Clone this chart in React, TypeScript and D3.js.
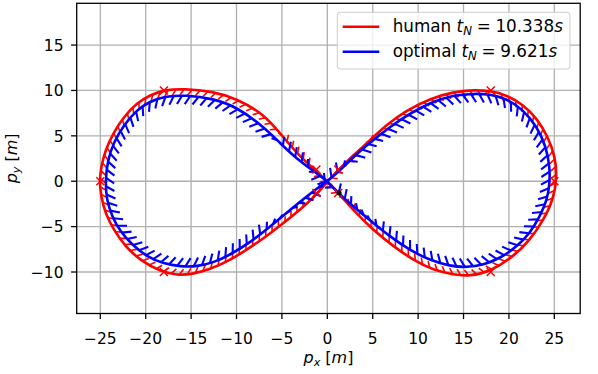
import { useEffect, useRef } from "react";
import * as d3 from "d3";

// trajectory samples, in travel order (closed figure eight)
const humanPath: [number, number][] = [
  [0, 0], [-1.2, 1.1], [-3.4, 3.1], [-5.2, 5.3], [-7.0, 7.4], [-10.0, 9.1],
  [-12.6, 9.9], [-15.8, 10.2], [-18.0, 10.05], [-19.5, 9.5], [-21.0, 8.6],
  [-22.4, 7.1], [-23.5, 5.45], [-24.45, 3.45], [-24.9, 1.6], [-25.1, 0],
  [-24.9, -1.7], [-24.45, -3.55], [-23.5, -5.4], [-22.25, -7.2], [-20.6, -8.7],
  [-18.4, -9.95], [-16.5, -10.35], [-14.9, -10.25], [-12.9, -9.7], [-11.0, -8.85],
  [-9.2, -7.75], [-7.0, -6.3], [-4.8, -4.6], [-2.6, -2.8], [-1.1, -1.4],
  [0, 0], [1.2, 1.2], [2.9, 2.9], [4.7, 4.5], [6.5, 6.2], [8.7, 7.8],
  [11.3, 9.1], [13.9, 9.85], [16.1, 10.05], [17.9, 9.97], [19.75, 9.5],
  [21.6, 8.4], [23.1, 6.9], [24.3, 4.9], [25.1, 2.7], [25.3, 0.4],
  [24.9, -2.0], [23.8, -4.3], [22.3, -6.5], [20.5, -8.3], [17.9, -9.97],
  [15.7, -10.45], [13.9, -10.3], [11.7, -9.8], [9.5, -8.7], [7.3, -7.2],
  [5.1, -5.4], [3.2, -3.55], [1.4, -1.5],
];

const optimalPath: [number, number][] = [
  [0, 0], [-1.2, 0.9], [-3.4, 2.5], [-5.2, 4.2], [-7.0, 6.0], [-10.0, 8.2],
  [-12.6, 9.1], [-15.5, 9.5], [-18.0, 9.35], [-19.6, 8.75], [-21.0, 7.85],
  [-22.4, 6.2], [-23.5, 4.35], [-24.2, 2.3], [-24.45, 0], [-24.3, -2.1],
  [-23.7, -3.9], [-22.8, -5.55], [-21.5, -7.0], [-19.9, -8.3], [-18.0, -9.1],
  [-16.2, -9.4], [-14.35, -9.4], [-12.5, -8.95], [-10.7, -8.1], [-8.5, -6.75],
  [-6.3, -5.0], [-4.1, -3.15], [-1.9, -1.35],
  [0, 0], [1.2, 1.0], [2.9, 2.7], [4.7, 4.25], [6.9, 6.0], [9.1, 7.45],
  [11.3, 8.65], [13.9, 9.5], [16.1, 9.65], [17.9, 9.6], [19.75, 9.1],
  [21.6, 7.85], [23.1, 6.0], [24.1, 3.8], [24.5, 1.6], [24.5, -0.25],
  [24.2, -2.1], [23.4, -3.9], [22.3, -5.75], [20.9, -7.2], [19.0, -8.5],
  [17.2, -9.2], [15.35, -9.5], [13.5, -9.35], [11.3, -8.7], [9.1, -7.6],
  [6.9, -6.1], [4.7, -4.3], [2.9, -2.8], [1.2, -1.3],
];

const waypoints: [number, number][] = [
  [-25, 0], [-18, 10], [-18, -10], [18, 10], [25, 0], [18, -10],
  [-1.2, 1.3], [1.2, 1.3], [-1.2, -1.3], [1.2, -1.3],
];
const startPoint: [number, number] = [1.3, -1.3];

const xTicks = [-25, -20, -15, -10, -5, 0, 5, 10, 15, 20, 25];
const yTicks = [-10, -5, 0, 5, 10, 15];

const series = [
  { name: "human", time: "10.338", color: "#ff0000", path: humanPath },
  { name: "optimal", time: "9.621", color: "#0000ff", path: optimalPath },
];

const FONT = "DejaVu Sans";

export default function App() {
  const svgRef = useRef<SVGSVGElement>(null);

  useEffect(() => {
    const svg = d3.select(svgRef.current);
    svg.selectAll("*").remove();

    const left = 76.7, right = 580.2, top = 3.3, bottom = 313.5;
    const x = d3.scaleLinear().domain([-27.6, 27.85]).range([left, right]);
    const y = d3.scaleLinear().domain([-14.57, 19.6]).range([bottom, top]);
    const fmt = (d: number) => (d < 0 ? "\u2212" + Math.abs(d) : String(d));

    svg.append("rect").attr("width", 598).attr("height", 374).attr("fill", "#fff");

    svg.append("defs").append("clipPath").attr("id", "plot-clip")
      .append("rect").attr("x", left).attr("y", top)
      .attr("width", right - left).attr("height", bottom - top);

    // grid
    const grid = svg.append("g").attr("stroke", "#b0b0b0").attr("stroke-width", 1.3);
    grid.selectAll("line.gx").data(xTicks).join("line").attr("class", "gx")
      .attr("x1", (d) => x(d)).attr("x2", (d) => x(d))
      .attr("y1", top).attr("y2", bottom);
    grid.selectAll("line.gy").data(yTicks).join("line").attr("class", "gy")
      .attr("y1", (d) => y(d)).attr("y2", (d) => y(d))
      .attr("x1", left).attr("x2", right);

    const plot = svg.append("g").attr("clip-path", "url(#plot-clip)");
    const line = d3.line<[number, number]>()
      .x((d) => x(d[0])).y((d) => y(d[1]))
      .curve(d3.curveBasisClosed);

    // heading marks: forward component + inward (curvature) component, in px
    const tickStyle: Record<string, { step: number; along: number; normal: number; gain: number; width: number }> = {
      human: { step: 8, along: 4, normal: 5.6, gain: 3500, width: 1.6 },
      optimal: { step: 8.3, along: 5, normal: 8.4, gain: 3500, width: 2.1 },
    };

    series.forEach((s) => {
      const path = plot.append("path")
        .attr("d", line(s.path) as string)
        .attr("fill", "none").attr("stroke", s.color).attr("stroke-width", 2.6);

      const node = path.node() as SVGPathElement;
      const total = node.getTotalLength();
      const at = (l: number) => {
        const p = node.getPointAtLength(((l % total) + total) % total);
        return [p.x, p.y];
      };
      const tangent = (l: number) => {
        const a = at(l - 1.5), b = at(l + 1.5);
        const dx = b[0] - a[0], dy = b[1] - a[1];
        const n = Math.hypot(dx, dy) || 1;
        return [dx / n, dy / n];
      };
      const st = tickStyle[s.name];
      const marks: [number, number, number, number][] = [];
      for (let l = 0; l < total; l += st.step) {
        const p = at(l);
        const t = tangent(l);
        const t1 = tangent(l - 5), t2 = tangent(l + 5);
        const kx = (t2[0] - t1[0]) / 10, ky = (t2[1] - t1[1]) / 10;
        const k = Math.hypot(kx, ky);
        const nLen = Math.min(st.normal, st.gain * k);
        const nx = k > 1e-9 ? kx / k : 0, ny = k > 1e-9 ? ky / k : 0;
        const vx = st.along * t[0] + nLen * nx;
        const vy = st.along * t[1] + nLen * ny;
        marks.push([p[0], p[1], p[0] + vx, p[1] + vy]);
      }
      plot.append("g").attr("stroke", s.color).attr("stroke-width", st.width)
        .selectAll("line").data(marks).join("line")
        .attr("x1", (d) => d[0]).attr("y1", (d) => d[1])
        .attr("x2", (d) => d[2]).attr("y2", (d) => d[3]);
    });

    // waypoint markers
    plot.append("g").attr("stroke", "#ff0000").attr("stroke-width", 1.5)
      .selectAll("path").data(waypoints).join("path")
      .attr("d", (d) => {
        const cx = x(d[0]), cy = y(d[1]), r = 4;
        return `M${cx - r},${cy - r}L${cx + r},${cy + r}M${cx - r},${cy + r}L${cx + r},${cy - r}`;
      });
    plot.append("circle").attr("cx", x(startPoint[0])).attr("cy", y(startPoint[1]))
      .attr("r", 2.5).attr("fill", "#000");

    // frame
    svg.append("rect").attr("x", left).attr("y", top)
      .attr("width", right - left).attr("height", bottom - top)
      .attr("fill", "none").attr("stroke", "#000").attr("stroke-width", 1.3);

    // ticks and labels
    const axes = svg.append("g").attr("font-family", FONT).attr("font-size", 15.5).attr("fill", "#000");
    axes.selectAll("line.tx").data(xTicks).join("line").attr("class", "tx")
      .attr("x1", (d) => x(d)).attr("x2", (d) => x(d))
      .attr("y1", bottom).attr("y2", bottom + 5.6).attr("stroke", "#000").attr("stroke-width", 1.3);
    axes.selectAll("text.lx").data(xTicks).join("text").attr("class", "lx")
      .attr("x", (d) => x(d)).attr("y", 343.6).attr("text-anchor", "middle").text(fmt);
    axes.selectAll("line.ty").data(yTicks).join("line").attr("class", "ty")
      .attr("y1", (d) => y(d)).attr("y2", (d) => y(d))
      .attr("x1", left - 5.6).attr("x2", left).attr("stroke", "#000").attr("stroke-width", 1.3);
    axes.selectAll("text.ly").data(yTicks).join("text").attr("class", "ly")
      .attr("x", 63.5).attr("y", (d) => y(d) + 5.8).attr("text-anchor", "end").text(fmt);

    const xl = axes.append("text").attr("x", (left + right) / 2).attr("y", 363)
      .attr("text-anchor", "middle").attr("font-size", 16);
    xl.append("tspan").attr("font-style", "italic").text("p");
    xl.append("tspan").attr("font-style", "italic").attr("font-size", 11.2).attr("dy", 3).text("x");
    xl.append("tspan").attr("dy", -3).text(" [");
    xl.append("tspan").attr("font-style", "italic").text("m");
    xl.append("tspan").text("]");

    const yl = axes.append("text")
      .attr("transform", `translate(17,${(top + bottom) / 2}) rotate(-90)`)
      .attr("text-anchor", "middle").attr("font-size", 16);
    yl.append("tspan").attr("font-style", "italic").text("p");
    yl.append("tspan").attr("font-style", "italic").attr("font-size", 11.2).attr("dy", 3).text("y");
    yl.append("tspan").attr("dy", -3).text(" [");
    yl.append("tspan").attr("font-style", "italic").text("m");
    yl.append("tspan").text("]");

    // legend
    const fs = 16.8;
    const lg = svg.append("g").attr("font-family", FONT).attr("font-size", fs).attr("fill", "#000");
    lg.append("rect").attr("x", 337.3).attr("y", 12.3).attr("width", 232.7).attr("height", 56.7)
      .attr("rx", 3).attr("fill", "#fff").attr("fill-opacity", 0.8)
      .attr("stroke", "#cccccc").attr("stroke-width", 1);
    series.forEach((s, i) => {
      const ly = 26.7 + i * 25;
      lg.append("line").attr("x1", 342.7).attr("x2", 379.3).attr("y1", ly).attr("y2", ly)
        .attr("stroke", s.color).attr("stroke-width", 2.6);
      const t = lg.append("text").attr("x", 392.7).attr("y", ly + 5.4);
      t.append("tspan").text(s.name + " ");
      t.append("tspan").attr("font-style", "italic").text("t");
      t.append("tspan").attr("font-style", "italic").attr("font-size", fs * 0.7)
        .attr("dy", 3.2).text("N");
      t.append("tspan").attr("dy", -3.2).attr("dx", fs * 0.28).text("=");
      t.append("tspan").attr("dx", fs * 0.28).text(s.time);
      t.append("tspan").attr("font-style", "italic").text("s");
    });
  }, []);

  return (
    <svg
      ref={svgRef}
      width={598}
      height={374}
      style={{ position: "absolute", left: 0, top: 0, display: "block" }}
    />
  );
}
